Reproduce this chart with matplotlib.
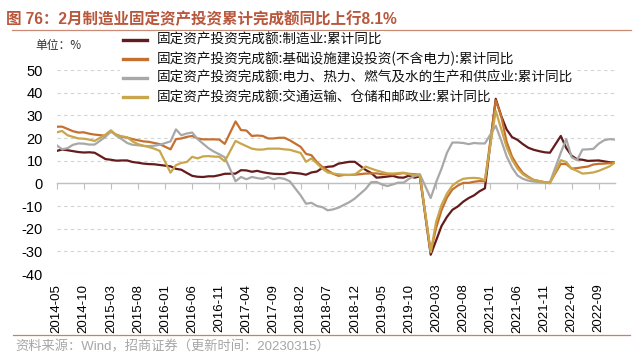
"""
制造业 / 基建 / 电力 / 交运 固定资产投资累计同比
"""

import numpy as np
import pandas as pd
import matplotlib
matplotlib.use('Agg')  # Non-interactive backend
import matplotlib.pyplot as plt
from matplotlib.lines import Line2D
from matplotlib.patches import Rectangle

plt.rcParams['font.family'] = ['Liberation Sans', 'Noto Sans CJK SC']
plt.rcParams['axes.unicode_minus'] = False

nan = np.nan

# 月度数据 2014-05 ~ 2022-12 (1月无数据)
months = pd.date_range('2014-05-01', '2022-12-01', freq='MS')

manufacturing = [
    14.3, 14.9, 14.6, 14.2, 13.8, 13.6, 13.7, 13.5,
    nan, 10.7, 10.4, 10.0, 10.1, 10.1, 9.4, 9.1, 8.7, 8.5, 8.4, 8.1,
    nan, 7.5, 6.4, 6.0, 4.6, 3.3, 2.9, 2.8, 3.1, 3.1, 3.6, 4.2,
    nan, 4.3, 5.8, 5.7, 5.1, 5.5, 4.9, 4.5, 4.2, 4.1, 4.1, 4.8,
    nan, 4.3, 3.8, 4.8, 5.2, 6.8, 7.3, 7.5, 8.7, 9.1, 9.5, 9.5,
    nan, 5.9, 4.6, 2.5, 2.7, 3.0, 3.3, 2.6, 2.5, 3.4, 2.5, 3.1,
    nan, -31.5, -25.2, -18.8, -14.8, -11.7, -10.2, -8.1, -6.5, -5.3, -3.5, -2.2,
    nan, 37.3, 29.8, 23.8, 20.4, 19.2, 17.3, 15.7, 14.8, 14.2, 13.7, 13.5,
    nan, 20.9, 15.6, 12.2, 10.6, 10.4, 9.9, 10.0, 10.1, 9.7, 9.3, 9.1,
]

infrastructure = [
    25.0, 25.0, 24.0, 23.0, 22.4, 22.5, 21.9, 21.5,
    nan, 21.0, 22.8, 21.5, 20.5, 20.2, 19.5, 19.0, 18.5, 18.3, 17.8, 17.3,
    nan, 15.0, 19.5, 19.8, 20.5, 20.9, 19.8, 19.4, 19.4, 19.4, 19.3, 17.4,
    nan, 27.3, 23.5, 23.3, 20.9, 21.1, 20.9, 19.8, 19.8, 20.1, 20.1, 19.0,
    nan, 16.1, 13.0, 12.4, 9.4, 7.3, 5.7, 4.2, 3.3, 3.7, 3.7, 3.8,
    nan, 4.3, 4.4, 4.4, 4.0, 4.1, 3.8, 4.2, 4.5, 4.2, 4.0, 3.8,
    nan, -30.3, -19.7, -11.8, -6.3, -2.7, -1.0, 0.2, 0.2, 0.7, 1.0, 0.9,
    nan, 36.6, 29.7, 18.4, 11.8, 7.8, 4.6, 2.9, 1.5, 1.0, 0.5, 0.4,
    nan, 8.6, 8.5, 6.5, 6.7, 7.1, 7.4, 8.3, 8.6, 8.7, 8.9, 9.4,
]

utilities = [
    16.8, 15.0, 15.5, 17.0, 17.6, 17.5, 17.1, 17.1,
    nan, 20.5, 23.0, 21.0, 19.5, 17.8, 17.0, 16.8, 16.5, 16.4, 16.6, 17.0,
    nan, 18.5, 23.8, 21.2, 22.0, 22.4, 19.5, 17.5, 15.5, 14.0, 12.8, 11.5,
    nan, 0.9, 2.8, 1.8, 2.8, 2.3, 2.0, 2.8, 1.8, 2.4, 2.0, 0.9,
    nan, -5.3, -9.0, -8.6, -10.0, -10.5, -11.9, -11.5, -10.7, -9.5, -8.3, -6.7,
    nan, -2.5, 0.5, 0.6, -0.5, -1.2, -0.5, 0.3, 0.3, 2.0, 3.2, 4.0,
    nan, -6.5, 0.5, 6.5, 13.5, 18.0, 18.0, 17.8, 17.3, 17.8, 17.6, 17.6,
    nan, 25.4, 19.0, 12.0, 7.0, 3.5, 2.0, 1.2, 0.8, 0.5, 0.3, 0.5,
    nan, 13.5, 19.5, 11.5, 10.2, 14.9, 15.0, 15.2, 17.5, 19.0, 19.5, 19.3,
]

transport = [
    22.5, 23.1, 21.2, 20.5, 19.8, 19.7, 19.3, 18.7,
    nan, 21.5, 23.4, 21.3, 20.8, 20.3, 18.5, 17.3, 16.6, 16.0, 15.3, 14.3,
    nan, 4.7, 8.0, 9.0, 9.4, 11.7, 11.0, 11.9, 12.0, 11.8, 11.7, 9.7,
    nan, 18.7, 17.5, 16.4, 15.3, 14.9, 14.9, 15.3, 15.3, 15.3, 15.0, 14.8,
    nan, 13.4, 9.5, 11.0, 8.8, 6.5, 4.8, 4.3, 4.0, 3.8, 3.7, 3.9,
    nan, 7.4, 6.5, 5.7, 5.0, 4.4, 4.3, 4.5, 4.7, 4.0, 3.6, 3.4,
    nan, -30.4, -17.0, -9.5, -4.5, -1.0, 0.8, 2.0, 2.3, 2.4, 2.2, 1.4,
    nan, 32.0, 24.0, 16.0, 10.5, 6.5, 4.0, 2.5, 1.5, 1.0, 0.5, 0.0,
    nan, 10.2, 9.4, 6.5, 5.5, 4.3, 4.5, 4.8, 5.5, 6.5, 7.5, 9.2,
]

series_labels = [
    '固定资产投资完成额:制造业:累计同比',
    '固定资产投资完成额:基础设施建设投资(不含电力):累计同比',
    '固定资产投资完成额:电力、热力、燃气及水的生产和供应业:累计同比',
    '固定资产投资完成额:交通运输、仓储和邮政业:累计同比',
]
series_colors = ['#641B1C', '#C5702F', '#A8A8A8', '#C9A64B']

title = '图 76：2月制造业固定资产投资累计完成额同比上行8.1%'
source = '资料来源：Wind，招商证券（更新时间：20230315）'

df = pd.DataFrame({
    'manufacturing': manufacturing,
    'infrastructure': infrastructure,
    'utilities': utilities,
    'transport': transport,
}, index=months)

W, H = 640, 359
fig = plt.figure(figsize=(W / 100, H / 100), dpi=100)
ax = fig.add_axes([56.7 / W, 1 - 274 / H, (615 - 56.7) / W, (274 - 70) / H])

x = np.arange(len(df))
for col, color in zip(df.columns, series_colors):
    y = df[col].to_numpy()
    ok = ~np.isnan(y)  # 1月缺失 -> 连线跨过
    ax.plot(x[ok], y[ok], color=color, lw=1.6, zorder=3, solid_joinstyle='round')

ax.set_xlim(0, len(df) - 1)
ax.set_ylim(-40, 50)
ax.set_yticks(range(-40, 51, 10))
ax.yaxis.grid(True, linestyle=(0, (3, 3)), color='#D3D3D3', lw=0.8)
ax.set_axisbelow(True)

for s in ['top', 'right', 'left']:
    ax.spines[s].set_visible(False)
ax.spines['bottom'].set_position(('data', 0))
ax.spines['bottom'].set_color('#BFBFBF')
ax.spines['bottom'].set_linewidth(1.0)

tick_pos = x[::5]
ax.set_xticks(tick_pos)
ax.tick_params(axis='x', direction='out', length=4, color='#BFBFBF', labelbottom=False)
ax.tick_params(axis='y', length=0, pad=10, labelsize=10.5)

sec = ax.secondary_xaxis('bottom')
sec.set_xticks(tick_pos, labels=months[::5].strftime('%Y-%m'))
sec.tick_params(axis='x', length=0, pad=7, labelsize=9.5, labelrotation=90)
sec.spines['bottom'].set_visible(False)

# 图例 (手动)
rows_y = [39.5, 58.5, 77.5, 96.5]
for ypx, lab, color in zip(rows_y, series_labels, series_colors):
    yf = 1 - ypx / H
    fig.add_artist(Rectangle((120 / W, yf - 8 / H), 38 / W, 16 / H, transform=fig.transFigure,
                             facecolor='white', edgecolor='none', zorder=3))
    fig.add_artist(Line2D([123 / W, 147 / W], [yf, yf], transform=fig.transFigure,
                          color=color, lw=2.4, zorder=4))
    fig.text(157 / W, yf, lab, fontsize=9.8, va='center', ha='left', color='#111111',
             family=['Noto Sans CJK SC'], zorder=4,
             bbox=dict(facecolor='white', edgecolor='none', pad=1.0))

fig.text(35 / W, 1 - 46 / H, '单位：%', fontsize=8.5, va='center', ha='left',
         color='#333333', family=['Noto Sans CJK SC'])

fig.text(6 / W, 1 - 19 / H, title, fontsize=11.2, fontweight='bold', va='center', ha='left',
         color='#B9573D')
fig.add_artist(Line2D([12 / W, 631 / W], [1 - 30 / H, 1 - 30 / H], transform=fig.transFigure,
                      color='#C98A75', lw=0.9))
fig.add_artist(Line2D([13 / W, 630 / W], [1 - 335 / H, 1 - 335 / H], transform=fig.transFigure,
                      color='#C9806A', lw=0.9))
fig.text(15 / W, 1 - 347 / H, source, fontsize=9.5, va='center', ha='left', color='#A6A6A6')

fig.savefig('out.png', dpi=100)
